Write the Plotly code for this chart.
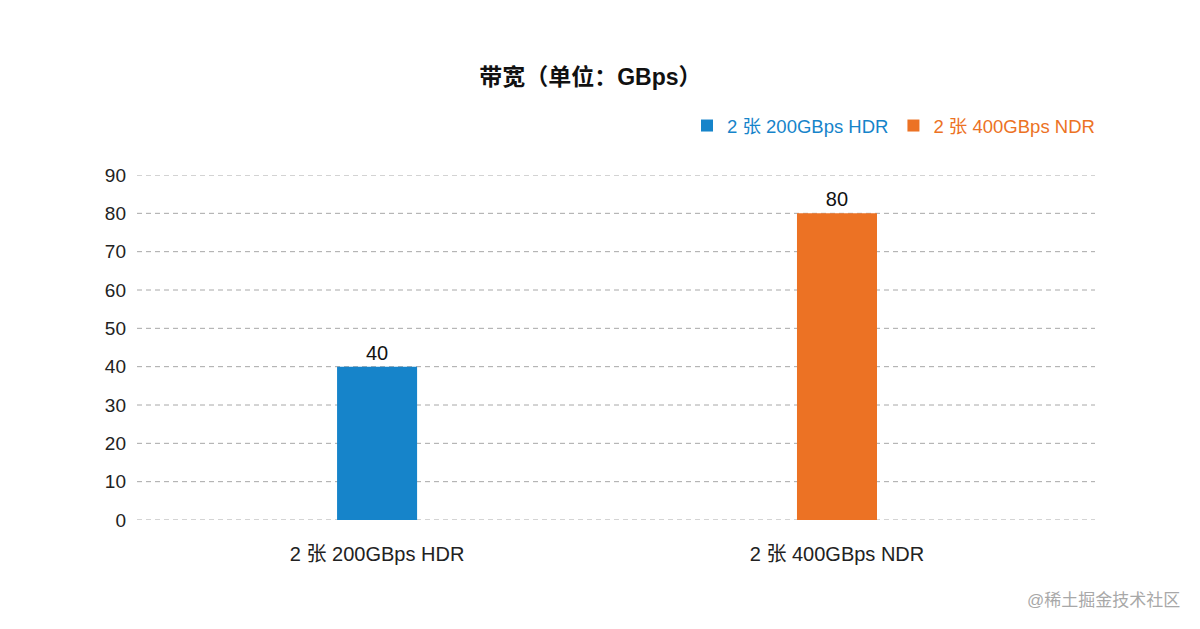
import plotly.graph_objects as go

categories = ["2 张 200GBps HDR", "2 张 400GBps NDR"]
series_names = ["2 张 200GBps HDR", "2 张 400GBps NDR"]
values = [40, 80]
colors = ["#1684CA", "#EC7224"]
y_ticks = [0, 10, 20, 30, 40, 50, 60, 70, 80, 90]

FONT = "Liberation Sans, Noto Sans CJK SC, sans-serif"

fig = go.Figure()
for i, (cat, name, val, col) in enumerate(zip(categories, series_names, values, colors)):
    fig.add_trace(go.Bar(
        x=[cat], y=[val],
        name=f"<span style='color:{col}'>{name}</span>",
        marker=dict(color=col, line=dict(width=0)),
        width=0.174,
        text=[str(val)], textposition="outside",
        textfont=dict(size=20, color="#111111", family=FONT),
        cliponaxis=False,
    ))

for t in y_ticks:
    fig.add_shape(type="line", xref="paper", yref="y", x0=0, x1=1, y0=t, y1=t,
                  line=dict(color="#a8a8a8", width=1, dash="5px,4px"), layer="below")

fig.update_layout(
    width=1200, height=629,
    paper_bgcolor="white", plot_bgcolor="white",
    margin=dict(l=137, r=105, t=175, b=109, autoexpand=False),
    barmode="overlay",
    font=dict(family=FONT, color="#222222"),
    title=dict(text="<b>带宽（单位：GBps）</b>", x=0.492, xanchor="center",
               y=1 - 77 / 629, yanchor="middle",
               font=dict(size=23, color="#111111", family=FONT)),
    legend=dict(orientation="h", xref="container", yref="container",
                x=1100 / 1200, xanchor="right", y=1 - 126 / 629, yanchor="middle",
                font=dict(size=18.5, family=FONT), itemwidth=30, traceorder="normal",
                bgcolor="rgba(0,0,0,0)"),
    xaxis=dict(type="category", range=[-0.522, 1.561], showgrid=False, showline=False,
               zeroline=False, ticks="", tickfont=dict(size=20, color="#222222"),
               ticklabelstandoff=20, automargin=False),
    yaxis=dict(range=[0, 90], tickvals=y_ticks, showgrid=False, zeroline=False,
               showline=False, ticks="", tickfont=dict(size=19, color="#222222"),
               ticklabelstandoff=10, automargin=False),
    showlegend=True,
)

fig.add_annotation(text="@稀土掘金技术社区", xref="paper", yref="paper",
                   x=(1182 - 137) / 958, xanchor="right", y=-(600 - 520) / 345, yanchor="middle",
                   showarrow=False, font=dict(size=17, color="#a8a8a8", family=FONT))

fig.write_html("out.html", post_script="document.body.style.margin='0';",
               config={"displayModeBar": False})
